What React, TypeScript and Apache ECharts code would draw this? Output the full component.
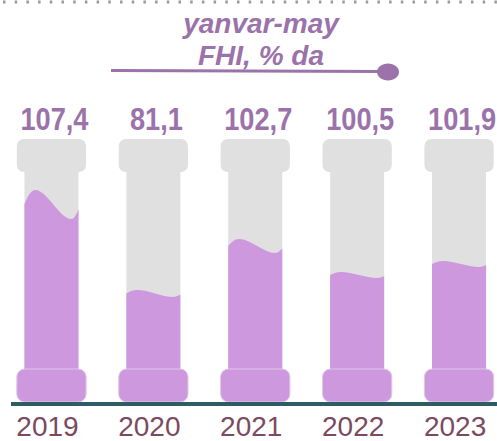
import React, { useEffect, useRef } from "react";
import * as echarts from "echarts";

// ---- data ----
const years: string[] = ["2019", "2020", "2021", "2022", "2023"];
const values: number[] = [107.4, 81.1, 102.7, 100.5, 101.9];
// visual fill level of each tube, % of tube height
const fillLevels: number[] = [75.1, 41.3, 59.3, 48.3, 52.5];
const titleLines: string[] = ["yanvar-may", "FHI, % da"];

// ---- styles ----
const WAVE_AMP = [14.5, 3.5, 7, 3, 3];
const GRAY = "#e0e0e0";
const PURPLE = "#cd98dd";
const TEXT_PURPLE = "#9b72aa";
const YEAR_COLOR = "#7b4a5f";
const FONT = "'Liberation Sans', Arial, sans-serif";

const fmt = (v: number) => v.toFixed(1).replace(".", ",");

export default function App() {
  const ref = useRef<HTMLDivElement>(null);
  useEffect(() => {
    if (!ref.current) return;
    const chart = echarts.init(ref.current, null, { renderer: "svg" });
    const data = years.map((_, i) => [i, fillLevels[i], values[i]]);
    chart.setOption({
      animation: false,
      grid: { left: 0.5, width: 509.5, top: 139, bottom: 39, outerBoundsMode: "none", containLabel: false },
      xAxis: {
        type: "category",
        data: years,
        boundaryGap: true,
        axisLine: { show: false },
        axisTick: { show: false },
        axisLabel: {
          fontSize: 28,
          color: YEAR_COLOR,
          fontFamily: FONT,
          margin: 10,
          padding: [0, 8, 0, 0],
        },
      },
      yAxis: { type: "value", min: 0, max: 100, show: false },
      graphic: [
        {
          type: "line",
          shape: { x1: 3, y1: 2, x2: 497, y2: 2 },
          style: { stroke: "#9a9a9a", lineWidth: 3, lineDash: [2.5, 9.2] },
        },
        {
          type: "text",
          x: 261,
          y: 23,
          style: {
            text: titleLines[0],
            fill: TEXT_PURPLE,
            font: `italic bold 28px ${FONT}`,
            textAlign: "center",
            textVerticalAlign: "middle",
          },
        },
        {
          type: "text",
          x: 261,
          y: 55,
          style: {
            text: titleLines[1],
            fill: TEXT_PURPLE,
            font: `italic bold 28px ${FONT}`,
            textAlign: "center",
            textVerticalAlign: "middle",
          },
        },
        {
          type: "line",
          shape: { x1: 111, y1: 70.5, x2: 385, y2: 71.5 },
          style: { stroke: TEXT_PURPLE, lineWidth: 3 },
        },
        {
          type: "ellipse",
          shape: { cx: 388, cy: 72, rx: 11, ry: 8.5 },
          style: { fill: TEXT_PURPLE },
        },
        {
          type: "line",
          shape: { x1: 11, y1: 404, x2: 497, y2: 404 },
          style: { stroke: "#2f5b64", lineWidth: 4 },
          z: 10,
        },
      ],
      series: [
        {
          type: "custom",
          data,
          clip: false,
          renderItem: (params: any, api: any) => {
            const i = api.value(0);
            const level = api.value(1);
            const v = api.value(2);
            const amp = WAVE_AMP[params.dataIndex];
            const [cx, yBot] = api.coord([i, 0]);
            const yTop = api.coord([i, 100])[1];
            const yc = api.coord([i, level])[1];
            const band = api.size([1, 0])[0];
            const capW = band * 0.68;
            const bodyW = band * 0.53;
            const capH = (yBot - yTop) * 0.1255;
            const x0 = cx - bodyW / 2;
            const x1 = cx + bodyW / 2;
            const P = (fx: number, fy: number) => `${x0 + fx * bodyW} ${yc + fy * amp}`;
            const bodyBottom = yBot - capH + 2;
            const d =
              `M ${x0} ${bodyBottom} L ${P(0, 0)} ` +
              `C ${P(0.05, -0.5)} ${P(0.12, -1)} ${P(0.2, -1)} ` +
              `C ${P(0.42, -1)} ${P(0.65, 1)} ${P(0.87, 1)} ` +
              `C ${P(0.93, 1)} ${P(0.97, 0.6)} ${P(1, 0.33)} ` +
              `L ${x1} ${bodyBottom} Z`;
            return {
              type: "group",
              children: [
                {
                  type: "rect",
                  shape: { x: x0, y: yTop + capH - 1, width: bodyW, height: yBot - yTop - 2 * capH + 2 },
                  style: { fill: GRAY },
                },
                {
                  type: "rect",
                  shape: { x: cx - capW / 2, y: yTop, width: capW, height: capH, r: 7 },
                  style: { fill: GRAY },
                },
                {
                  type: "path",
                  shape: { pathData: d },
                  style: { fill: PURPLE },
                },
                {
                  type: "rect",
                  shape: { x: cx - capW / 2, y: yBot - capH, width: capW, height: capH, r: 8 },
                  style: { fill: PURPLE, stroke: "#e0c6ea", lineWidth: 1 },
                },
                {
                  type: "text",
                  x: cx + 3,
                  y: yTop - 20,
                  scaleX: 0.85,
                  style: {
                    text: fmt(v),
                    fill: TEXT_PURPLE,
                    font: `bold 32px ${FONT}`,
                    textAlign: "center",
                    textVerticalAlign: "middle",
                  },
                },
              ],
            };
          },
        },
      ],
    });
    return () => chart.dispose();
  }, []);
  return <div ref={ref} style={{ width: 497, height: 441, position: "absolute", left: 0, top: 0 }} />;
}
